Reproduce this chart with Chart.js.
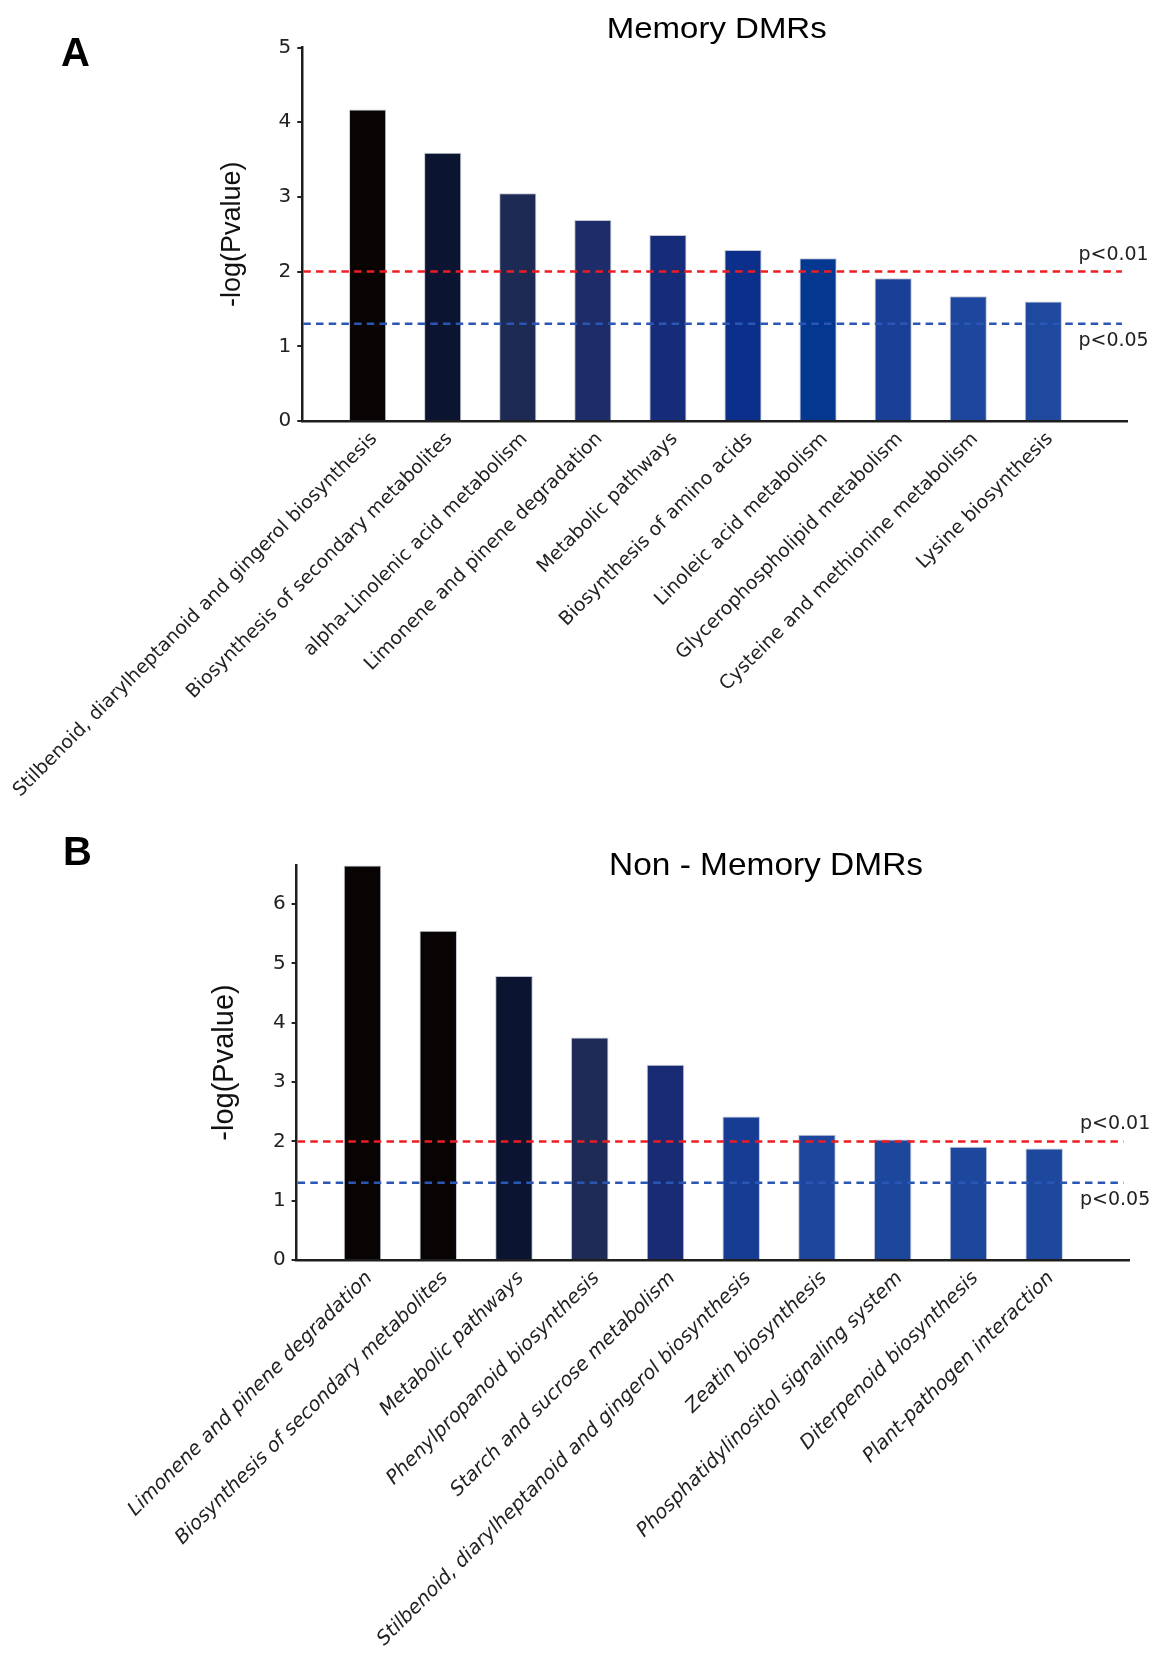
<!DOCTYPE html>
<html>
<head>
<meta charset="utf-8">
<script src="https://cdn.jsdelivr.net/npm/chart.js@4.4.1/dist/chart.umd.min.js"></script>
<style>
  html, body { margin: 0; padding: 0; background: #fff; }
  #wrap { position: relative; width: 1155px; height: 1655px; }
  canvas { position: absolute; left: 0; }
  #memoryChart { top: 0; }
  #nonMemoryChart { top: 800px; }
</style>
</head>
<body>
<div id="wrap">
  <canvas id="memoryChart" width="1155" height="800"></canvas>
  <canvas id="nonMemoryChart" width="1155" height="855"></canvas>
</div>
<script>
// Panel A: memory DMRs
const memoryLabels = [
    "Stilbenoid, diarylheptanoid and gingerol biosynthesis",
    "Biosynthesis of secondary metabolites",
    "alpha-Linolenic acid metabolism",
    "Limonene and pinene degradation",
    "Metabolic pathways",
    "Biosynthesis of amino acids",
    "Linoleic acid metabolism",
    "Glycerophospholipid metabolism",
    "Cysteine and methionine metabolism",
    "Lysine biosynthesis"
];
const memoryValues = [4.17, 3.59, 3.05, 2.69, 2.49, 2.29, 2.18, 1.91, 1.67, 1.60];
const memoryColors = ["#080404", "#0b1531", "#1d2a54", "#1e2c6a", "#172c78",
                      "#0b2f8b", "#033790", "#1a3f96", "#1d479f", "#1e499f"];
const memoryTicks = [0, 1, 2, 3, 4, 5];

// Panel B: non-memory DMRs
const nonMemoryLabels = [
    "Limonene and pinene degradation",
    "Biosynthesis of secondary metabolites",
    "Metabolic pathways",
    "Phenylpropanoid biosynthesis",
    "Starch and sucrose metabolism",
    "Stilbenoid, diarylheptanoid and gingerol biosynthesis",
    "Zeatin biosynthesis",
    "Phosphatidylinositol signaling system",
    "Diterpenoid biosynthesis",
    "Plant-pathogen interaction"
];
const nonMemoryValues = [6.65, 5.55, 4.79, 3.75, 3.29, 2.42, 2.11, 2.03, 1.91, 1.88];
const nonMemoryColors = ["#080404", "#080404", "#0b1531", "#1e2b57", "#192b74",
                         "#163d93", "#1d469c", "#1d479d", "#1d479d", "#1d489e"];
const nonMemoryTicks = [0, 1, 2, 3, 4, 5, 6];

// significance cut-offs, -log10(p)
const thresholdValues = [2, 1.301];
const thresholdLabels = ["p<0.01", "p<0.05"];
const thresholdColors = ["#ee1d23", "#2b56b3"];

function buildChart(canvasId, cfg) {
    const canvas = document.getElementById(canvasId);
    const W = canvas.width, H = canvas.height;
    const area = cfg.area;

    // dashed cut-off lines, their labels, panel letter and title
    const marks = {
        id: "marks",
        afterDatasetsDraw(chart) {
            const { ctx, chartArea, scales: { y } } = chart;
            ctx.save();
            thresholdValues.forEach((v, i) => {
                const py = y.getPixelForValue(v);
                ctx.beginPath();
                ctx.setLineDash([7.5, 5.2]);
                ctx.lineWidth = 2.5;
                ctx.strokeStyle = thresholdColors[i];
                ctx.moveTo(chartArea.left + 1, py);
                ctx.lineTo(chartArea.right - 5.5, py);
                ctx.stroke();
                ctx.setLineDash([]);
                ctx.fillStyle = "#222";
                ctx.font = '19px "DejaVu Sans"';
                ctx.textAlign = "left";
                ctx.textBaseline = "alphabetic";
                ctx.fillText(thresholdLabels[i], chartArea.right - 49, py + (i === 0 ? -12 : 21.7));
            });

            ctx.fillStyle = "#000";
            ctx.font = 'bold 40px "Liberation Sans"';
            ctx.fillText(cfg.panel, cfg.panelX, cfg.panelY);

            ctx.font = cfg.titleSize + 'px "Liberation Sans"';
            const w = ctx.measureText(cfg.title).width;
            ctx.translate(cfg.titleX, cfg.titleY);
            ctx.scale(cfg.titleWidth / w, 1);
            ctx.fillText(cfg.title, 0, 0);
            ctx.restore();
        }
    };

    return new Chart(canvas, {
        type: "bar",
        data: {
            datasets: [{
                data: cfg.values.map((v, i) => ({ x: i, y: v })),
                backgroundColor: cfg.colors,
                borderColor: "#c4c7d2",
                borderWidth: 1,
                categoryPercentage: 1,
                barPercentage: 0.495
            }]
        },
        options: {
            responsive: false,
            animation: false,
            devicePixelRatio: 1,
            layout: { padding: { left: 0, top: area.top, right: W - area.right, bottom: 0 } },
            plugins: { legend: { display: false }, tooltip: { enabled: false } },
            scales: {
                x: {
                    type: "linear",
                    min: -0.87,
                    max: 10.12,
                    bounds: "data",
                    offset: false,
                    grid: { display: false, drawTicks: false },
                    border: { display: true, color: "#1e1e1e", width: 2.5 },
                    // labels sit a little right of the bar centre, as in the source figure
                    afterBuildTicks: s => { s.ticks = cfg.labels.map((_, i) => ({ value: i + 0.09 })); },
                    afterFit: s => { s.height = H - area.bottom; s.paddingLeft = 0; s.paddingRight = 0; },
                    ticks: {
                        autoSkip: false,
                        minRotation: 45,
                        maxRotation: 45,
                        padding: 7,
                        color: "#222",
                        font: { family: "DejaVu Sans", size: cfg.labelSize, style: cfg.italic ? "italic" : "normal" },
                        callback: v => cfg.labels[Math.round(v)]
                    }
                },
                y: {
                    min: 0,
                    max: cfg.yMax,
                    bounds: "data",
                    grid: { display: true, drawOnChartArea: false, drawTicks: true, tickLength: 5, color: "#222", lineWidth: 2 },
                    border: { display: true, color: "#1e1e1e", width: 2.5 },
                    afterBuildTicks: s => { s.ticks = cfg.yTicks.map(v => ({ value: v })); },
                    afterFit: s => { s.width = area.left; },
                    ticks: {
                        padding: 6,
                        color: "#222",
                        font: { family: "DejaVu Sans", size: 20 }
                    },
                    title: {
                        display: true,
                        text: "-log(Pvalue)",
                        color: "#111",
                        font: { family: "Liberation Sans", size: cfg.yTitleSize },
                        padding: { top: cfg.yTitlePad, bottom: 0 }
                    }
                }
            }
        },
        plugins: [marks]
    });
}

buildChart("memoryChart", {
    labels: memoryLabels,
    values: memoryValues,
    colors: memoryColors,
    yTicks: memoryTicks,
    yMax: 5,
    italic: false,
    labelSize: 19,
    area: { left: 302.3, right: 1127.4, top: 47.5, bottom: 421 },
    yTitleSize: 27,
    yTitlePad: 216.8,
    panel: "A", panelX: 61, panelY: 66,
    title: "Memory DMRs", titleSize: 29, titleWidth: 220, titleX: 606.7, titleY: 38.3
});

buildChart("nonMemoryChart", {
    labels: nonMemoryLabels,
    values: nonMemoryValues,
    colors: nonMemoryColors,
    yTicks: nonMemoryTicks,
    yMax: 6.66,
    italic: true,
    labelSize: 19.5,
    area: { left: 296.6, right: 1129, top: 65, bottom: 460 },
    yTitleSize: 29,
    yTitlePad: 207.6,
    panel: "B", panelX: 63, panelY: 65,
    title: "Non - Memory DMRs", titleSize: 32, titleWidth: 314, titleX: 609, titleY: 75
});
</script>
</body>
</html>
